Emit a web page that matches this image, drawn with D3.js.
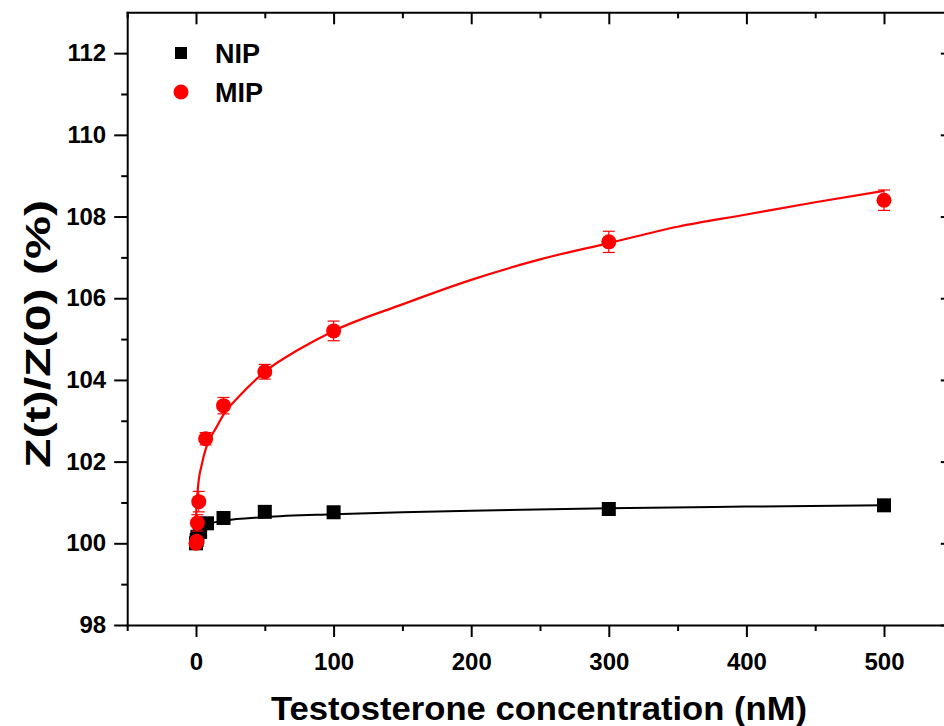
<!DOCTYPE html>
<html>
<head>
<meta charset="utf-8">
<script src="https://cdn.jsdelivr.net/npm/d3@7"></script>
<style>
  body { margin: 0; background: #fff; }
  svg text { font-family: "Liberation Sans", Arial, sans-serif; font-weight: bold; fill: #000; }
</style>
</head>
<body>
<div id="vis"></div>
<script>
const FRAME_WIDTH = 944;
const FRAME_HEIGHT = 726;

// data
const MIP_X = [0, 0.5, 1, 2, 7, 20, 50, 100, 300, 500];
const MIP_Y = [100.0, 100.05, 100.5, 101.02, 102.56, 103.37, 104.2, 105.2, 107.38, 108.4];
const MIP_ERR = [0.1, 0.1, 0.2, 0.25, 0.15, 0.2, 0.18, 0.24, 0.26, 0.25];

const NIP_X = [0, 0.5, 1, 3, 8, 20, 50, 100, 300, 500];
const NIP_Y = [100.0, 100.08, 100.16, 100.28, 100.49, 100.62, 100.77, 100.76, 100.84, 100.93];

// fitted curves
const MIP_FIT_X = [0, 0.2, 0.5, 1, 2, 4, 7, 10, 15, 20, 30, 50, 75, 100, 150, 200, 250, 300, 350, 400, 450, 500];
const MIP_FIT_Y = [100.0, 100.75, 100.95, 101.2, 101.55, 101.9, 102.3, 102.55, 102.85, 103.15, 103.55, 104.2, 104.75, 105.2, 105.85, 106.45, 106.95, 107.35, 107.75, 108.05, 108.35, 108.63];
const NIP_FIT_X = [0, 0.5, 1, 3, 8, 20, 50, 100, 150, 200, 300, 400, 500];
const NIP_FIT_Y = [100.0, 100.18, 100.25, 100.36, 100.46, 100.55, 100.64, 100.71, 100.76, 100.8, 100.86, 100.9, 100.93];

const X_TICKS = [0, 100, 200, 300, 400, 500];
const Y_TICKS = [98, 100, 102, 104, 106, 108, 110, 112];

const X_SCALE = d3.scaleLinear()
                    .domain([-50, 550])
                    .range([127.2, 952.8]);

const Y_SCALE = d3.scaleLinear()
                    .domain([98, 113])
                    .range([625, 12.3]);

const SVG = d3.select("#vis")
              .append("svg")
                .attr("width", FRAME_WIDTH)
                .attr("height", FRAME_HEIGHT);

SVG.append("rect")
    .attr("width", FRAME_WIDTH)
    .attr("height", FRAME_HEIGHT)
    .attr("fill", "#fff");

const xMinor = d3.range(-50, 551, 50).filter(v => v % 100 !== 0);
const yMinor = d3.range(99, 113, 2);

function styleAxis(g) {
  g.selectAll("path, line").attr("stroke", "#000").attr("stroke-width", 2);
  g.select(".domain").attr("stroke-linecap", "square");
}

// bottom axis
const axBottom = SVG.append("g")
    .attr("transform", "translate(0," + Y_SCALE(98) + ")")
    .call(d3.axisBottom(X_SCALE).tickValues(X_TICKS).tickSize(12).tickSizeOuter(0).tickPadding(10));
axBottom.selectAll("text").attr("font-size", "24px").attr("dy", "0.95em");
styleAxis(axBottom);
SVG.append("g")
    .attr("transform", "translate(0," + Y_SCALE(98) + ")")
    .call(d3.axisBottom(X_SCALE).tickValues(xMinor).tickSize(6).tickFormat(""))
    .call(g => g.select(".domain").remove())
    .call(styleAxis);

// top axis, ticks inward
const axTop = SVG.append("g")
    .attr("transform", "translate(0," + Y_SCALE(113) + ")")
    .call(d3.axisBottom(X_SCALE).tickValues(X_TICKS).tickSize(12).tickSizeOuter(0).tickFormat(""));
styleAxis(axTop);
SVG.append("g")
    .attr("transform", "translate(0," + Y_SCALE(113) + ")")
    .call(d3.axisBottom(X_SCALE).tickValues(xMinor).tickSize(6).tickFormat(""))
    .call(g => g.select(".domain").remove())
    .call(styleAxis);

// left axis
const axLeft = SVG.append("g")
    .attr("transform", "translate(" + X_SCALE(-50) + ",0)")
    .call(d3.axisLeft(Y_SCALE).tickValues(Y_TICKS).tickSize(13).tickSizeOuter(0).tickPadding(8));
axLeft.selectAll("text").attr("font-size", "24px");
styleAxis(axLeft);
SVG.append("g")
    .attr("transform", "translate(" + X_SCALE(-50) + ",0)")
    .call(d3.axisLeft(Y_SCALE).tickValues(yMinor).tickSize(6).tickFormat(""))
    .call(g => g.select(".domain").remove())
    .call(styleAxis);

// right axis, ticks inward
const axRight = SVG.append("g")
    .attr("transform", "translate(" + X_SCALE(550) + ",0)")
    .call(d3.axisLeft(Y_SCALE).tickValues(Y_TICKS).tickSize(12).tickSizeOuter(0).tickFormat(""));
styleAxis(axRight);
SVG.append("g")
    .attr("transform", "translate(" + X_SCALE(550) + ",0)")
    .call(d3.axisLeft(Y_SCALE).tickValues(yMinor).tickSize(6).tickFormat(""))
    .call(g => g.select(".domain").remove())
    .call(styleAxis);

// axis titles
SVG.append("text")
    .attr("x", 539)
    .attr("y", 720)
    .attr("text-anchor", "middle")
    .attr("font-size", "34px")
    .attr("textLength", 536)
    .attr("lengthAdjust", "spacingAndGlyphs")
    .text("Testosterone concentration (nM)");

SVG.append("text")
    .attr("transform", "translate(50,334) rotate(-90)")
    .attr("text-anchor", "middle")
    .attr("font-size", "35px")
    .attr("textLength", 268)
    .attr("lengthAdjust", "spacingAndGlyphs")
    .text("Z(t)/Z(0) (%)");

// fit lines
const line = d3.line()
    .x(d => X_SCALE(d[0]))
    .y(d => Y_SCALE(d[1]))
    .curve(d3.curveMonotoneX);

SVG.append("path")
    .datum(NIP_FIT_X.map((x, i) => [x, NIP_FIT_Y[i]]))
    .attr("d", line)
    .attr("fill", "none")
    .attr("stroke", "#000")
    .attr("stroke-width", 2);

SVG.append("path")
    .datum(MIP_FIT_X.map((x, i) => [x, MIP_FIT_Y[i]]))
    .attr("d", line)
    .attr("fill", "none")
    .attr("stroke", "#ff0000")
    .attr("stroke-width", 2.2);

// NIP squares
const nip = NIP_X.map((x, i) => ({x: x, y: NIP_Y[i]}));
SVG.selectAll(".nip")
    .data(nip)
    .enter()
    .append("rect")
      .attr("class", "nip")
      .attr("x", d => X_SCALE(d.x) - 7)
      .attr("y", d => Y_SCALE(d.y) - 7)
      .attr("width", 14)
      .attr("height", 14)
      .attr("fill", "#000");

// MIP error bars + circles
const mip = MIP_X.map((x, i) => ({x: x, y: MIP_Y[i], e: MIP_ERR[i]}));
const eb = SVG.selectAll(".err")
    .data(mip)
    .enter()
    .append("g")
      .attr("class", "err")
      .attr("stroke", "#ff0000")
      .attr("stroke-width", 1.2);
eb.append("line")
    .attr("x1", d => X_SCALE(d.x)).attr("x2", d => X_SCALE(d.x))
    .attr("y1", d => Y_SCALE(d.y - d.e)).attr("y2", d => Y_SCALE(d.y + d.e));
eb.append("line")
    .attr("x1", d => X_SCALE(d.x) - 6).attr("x2", d => X_SCALE(d.x) + 6)
    .attr("y1", d => Y_SCALE(d.y + d.e)).attr("y2", d => Y_SCALE(d.y + d.e));
eb.append("line")
    .attr("x1", d => X_SCALE(d.x) - 6).attr("x2", d => X_SCALE(d.x) + 6)
    .attr("y1", d => Y_SCALE(d.y - d.e)).attr("y2", d => Y_SCALE(d.y - d.e));

SVG.selectAll(".mip")
    .data(mip)
    .enter()
    .append("circle")
      .attr("class", "mip")
      .attr("cx", d => X_SCALE(d.x))
      .attr("cy", d => Y_SCALE(d.y))
      .attr("r", 7.5)
      .attr("fill", "#ff0000");

// legend
const LEGEND = [{name: "NIP", color: "#000", shape: "square"},
                {name: "MIP", color: "#ff0000", shape: "circle"}];
const leg = SVG.selectAll(".leg")
    .data(LEGEND)
    .enter()
    .append("g")
      .attr("class", "leg")
      .attr("transform", (d, i) => "translate(181," + (53 + i * 39) + ")");
leg.filter(d => d.shape === "square")
    .append("rect")
      .attr("x", -6).attr("y", -6).attr("width", 12).attr("height", 12)
      .attr("fill", d => d.color);
leg.filter(d => d.shape === "circle")
    .append("circle")
      .attr("r", 7.5)
      .attr("fill", d => d.color);
leg.append("text")
    .attr("x", 34)
    .attr("dy", "0.36em")
    .attr("font-size", "27px")
    .text(d => d.name);
</script>
</body>
</html>
